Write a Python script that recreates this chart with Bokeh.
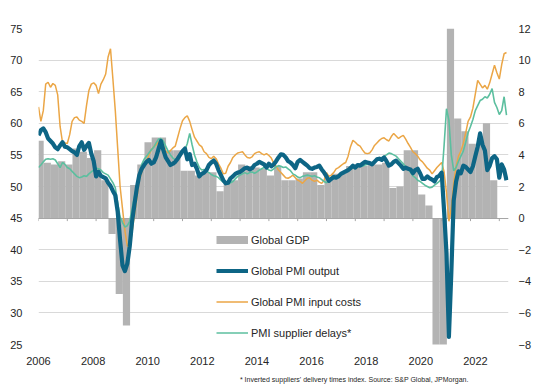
import numpy as np
from bokeh.plotting import figure
from bokeh.models import Range1d, LinearAxis, FixedTicker, Label, Legend, LegendItem, Title
from bokeh.embed import file_html
from bokeh.resources import INLINE

# ---------------- data ----------------
START_YEAR = 2006
# Global PMI output, monthly Jan-2006 .. Apr-2022
pmi_output = [
    58.1, 58.9, 59.2, 58.6, 57.6, 57.2, 56.8, 56.2, 55.9, 56.5, 57.0, 56.3,
    56.2, 55.9, 55.6, 55.4, 55.0, 56.4, 57.0, 55.8, 56.4, 56.9, 55.2, 54.0,
    51.6, 52.3, 51.7, 51.5, 51.3, 50.6, 50.1, 49.3, 48.6, 46.0, 41.5, 37.5,
    36.6, 37.8, 40.5, 44.5, 47.2, 49.8, 51.8, 52.8, 53.4, 53.9, 54.2, 53.6,
    53.8, 54.6, 55.9, 57.2, 55.8, 54.6, 54.0, 53.4, 53.6, 53.9, 54.4, 55.0,
    55.6, 56.0, 54.3, 55.1, 53.4, 53.6, 52.8, 51.6, 52.0, 52.2, 52.6, 53.4,
    53.8, 54.1, 53.6, 52.6, 51.8, 51.0, 50.5, 50.6, 51.3, 51.6, 52.0, 52.2,
    52.3, 52.6, 52.9, 53.0, 52.7, 52.9, 53.4, 53.6, 53.9, 53.7, 53.5, 53.0,
    53.6, 53.2, 53.5, 54.0, 54.6, 55.1, 55.0, 54.6, 54.0, 53.8, 53.4, 52.9,
    53.9, 54.2, 53.9, 53.6, 53.3, 52.9, 52.8, 53.0, 53.1, 53.3, 52.7, 52.2,
    51.6, 50.9, 51.2, 51.5, 51.4, 51.6, 52.0, 52.2, 52.4, 52.6, 52.9, 53.3,
    53.0, 53.4, 53.3, 53.6, 53.9, 53.8, 53.7, 53.5, 53.9, 54.3, 54.4, 54.2,
    54.6, 54.0, 53.3, 53.5, 53.9, 54.1, 53.7, 53.3, 52.8, 53.0, 52.8, 52.7,
    52.1, 52.6, 52.8, 52.1, 51.2, 51.2, 51.6, 51.3, 51.1, 50.8, 51.5, 51.7,
    52.2, 46.1, 39.4, 26.2, 36.3, 47.8, 50.8, 52.4, 52.1, 53.3, 53.1, 52.7,
    52.3, 53.2, 54.8, 56.3, 58.4, 56.6, 55.7, 52.6, 53.3, 54.5, 54.8, 54.3,
    51.4, 53.5, 52.7, 51.0,
]
# Global PMI input costs
pmi_input_costs = [
    62.6, 60.3, 62.0, 66.2, 66.5, 65.7, 66.3, 66.0, 64.5, 59.5, 57.0, 56.9,
    56.8, 58.2, 60.3, 60.9, 61.0, 60.5, 60.3, 60.0, 62.8, 65.2, 66.2, 66.4,
    66.0, 64.7, 66.2, 66.9, 67.8, 70.5, 71.8, 67.0, 62.0, 56.0, 50.0, 46.5,
    43.0, 40.6, 40.5, 42.8, 45.6, 48.2, 51.0, 52.3, 53.3, 54.0, 55.0, 55.8,
    56.3, 56.6, 57.0, 57.2, 56.5, 55.6, 55.3, 55.7, 56.1, 56.4, 57.8, 59.2,
    60.4, 60.9, 61.2, 60.3, 59.0, 57.8, 57.2, 56.6, 56.3, 55.5, 55.2, 54.6,
    54.4, 54.8, 54.4, 53.6, 52.9, 52.0, 52.1, 53.2, 53.8, 54.6, 55.0, 55.3,
    55.4, 55.5, 55.0, 54.6, 54.5, 54.7, 55.2, 55.4, 55.5, 55.2, 55.0, 55.2,
    54.9, 54.5, 53.7, 53.2, 52.6, 52.2, 51.8, 51.4, 51.3, 51.5, 51.8, 51.4,
    51.0, 50.8, 50.5, 50.9, 51.3, 51.4, 51.0, 50.8, 51.0, 50.7, 50.5, 51.0,
    52.2, 51.6, 51.8, 52.2, 52.8, 53.0, 53.3, 53.6, 53.8, 54.8, 56.3, 57.3,
    57.0, 56.6, 56.4, 55.8, 55.3, 55.2, 55.3, 55.8, 56.5, 56.9, 57.3, 57.6,
    57.7, 57.4, 57.2, 57.9, 58.4, 58.0, 57.6, 57.9, 58.1, 57.5, 56.8, 56.2,
    55.5, 55.2, 54.8, 54.2, 53.9, 53.4, 52.9, 52.6, 52.0, 52.5, 53.0, 53.4,
    53.8, 52.3, 49.0, 44.5, 46.6, 50.6, 53.2, 54.8, 55.6, 56.8, 58.5, 60.3,
    61.0, 62.4, 64.6, 66.8, 66.2, 65.6, 66.0, 65.4, 66.4, 67.8, 69.2, 68.0,
    67.0, 69.3, 71.0, 71.2,
]
# PMI supplier delays (inverted suppliers' delivery times index)
pmi_supplier_delays = [
    53.0, 53.4, 53.9, 54.3, 54.4, 54.3, 54.4, 54.2, 53.6, 53.0, 53.8, 53.5,
    53.0, 52.8, 52.4, 52.0, 51.6, 51.4, 51.5, 51.7, 51.6, 52.0, 52.3, 52.6,
    52.9, 52.8, 52.6, 52.2, 52.0, 51.8, 51.2, 50.6, 49.8, 47.4, 45.2, 44.3,
    43.6, 43.8, 44.5, 46.5, 48.4, 50.3, 52.0, 53.5, 54.3, 54.8, 55.3, 55.8,
    56.2, 56.9, 57.5, 57.6, 57.2, 56.4, 55.6, 55.0, 54.5, 54.2, 54.6, 55.2,
    55.6, 55.8, 56.8, 58.4, 56.6, 55.0, 53.9, 53.0, 52.6, 52.7, 52.4, 52.2,
    51.9, 51.7, 51.6, 51.4, 51.0, 50.7, 50.5, 50.4, 50.6, 50.8, 51.2, 51.6,
    51.8, 52.0, 52.2, 52.0, 52.2, 52.3, 52.1, 52.3, 52.6, 52.8, 53.0, 52.9,
    52.6, 52.5, 52.8, 53.1, 53.3, 53.2, 53.0, 53.1, 52.8, 52.5, 52.0, 51.8,
    51.5, 51.4, 51.6, 51.7, 51.8, 51.7, 51.6, 51.7, 51.5, 51.4, 51.1, 50.8,
    50.6, 50.9, 51.2, 51.4, 51.6, 51.7, 51.9, 52.1, 52.3, 52.6, 52.8, 52.9,
    53.0, 53.1, 53.3, 53.2, 53.4, 53.5, 53.7, 53.8, 54.0, 54.2, 54.5, 54.6,
    54.8, 55.0, 55.3, 55.2, 55.0, 54.8, 54.4, 54.0, 53.6, 53.1, 52.7, 52.3,
    51.7, 51.4, 51.0, 50.8, 50.5, 50.2, 50.0, 49.8, 49.9, 50.2, 50.5, 50.8,
    51.3, 56.5, 62.3, 60.5, 55.0, 52.5, 53.0, 54.0, 54.8, 55.6, 57.0, 58.5,
    59.5, 60.6, 62.0, 62.8, 63.6, 63.8, 64.2, 64.0, 64.6, 65.5, 63.3, 62.5,
    61.4, 62.0, 64.2, 61.3,
]
# Global GDP, quarterly annual % change, 2006Q2 .. 2022Q1
FIRST_QUARTER = 2006.25
global_gdp = [
    4.9, 3.5, 3.4, 3.6, 3.4, 4.4, 4.2, 3.8, 4.3, 2.4,
    -1.0, -4.8, -6.8, 2.1, 3.4, 4.8, 5.1, 5.1, 4.3, 4.3,
    3.0, 3.0, 2.7, 2.9, 2.9, 1.7, 2.2, 2.4, 3.4, 3.3,
    3.2, 3.1, 2.7, 3.3, 2.4, 2.4, 2.5, 2.9, 2.9, 2.1,
    2.5, 2.8, 2.8, 3.3, 3.3, 3.3, 3.4, 3.4, 3.5, 1.9,
    2.0, 4.3, 4.3, 1.5, 0.8, -9.8, -29.5, 33.5, 6.3, 5.5,
    4.7, 4.7, 6.0, 2.4,
]
year_ticks = list(range(2006, 2023))
label_years = list(range(2006, 2023, 2))
left_ticks = list(range(25, 80, 5))
right_ticks = list(range(-8, 14, 2))

months = [START_YEAR + i / 12 for i in range(len(pmi_output))]
quarters = [FIRST_QUARTER + 0.25 * i for i in range(len(global_gdp))]

# ---------------- style / layout ----------------
FONT = "Liberation Sans"
TXT = "#262626"
GREY = "#b3b3b3"
TEAL = "#0d6585"
ORANGE = "#eba646"
GREEN = "#5cbf9f"
W, H = 552, 390
FL, FR, FT, FB = 38, 44, 28, 46
PX_PER_YEAR = 28.8
BAR_SHIFT = -0.195          # bars drawn slightly earlier, as in the source chart
frame_w = W - FL - FR
frame_h = H - FT - FB
x_end = START_YEAR + frame_w / PX_PER_YEAR
# year labels on the source chart sit on a slightly compressed scale
LAB_PX_PER_YEAR = 27.31
lab_start = START_YEAR
lab_end = lab_start + frame_w / LAB_PX_PER_YEAR

p = figure(width=W, height=H, x_range=Range1d(START_YEAR, x_end),
           y_range=Range1d(25, 75), output_backend="svg",
           toolbar_location=None, x_axis_location=None,
           min_border_left=FL, min_border_right=FR,
           min_border_top=FT, min_border_bottom=FB)
p.outline_line_color = None
p.background_fill_color = "white"
p.border_fill_color = "white"
p.extra_y_ranges = {"gdp": Range1d(-8, 12)}
p.extra_x_ranges = {"lab": Range1d(lab_start, lab_end)}

for g in p.xgrid:
    g.visible = False
p.ygrid.ticker = FixedTicker(ticks=left_ticks)
p.ygrid.grid_line_color = "#d9d9d9"
p.ygrid.grid_line_width = 1


def style_axis(ax, standoff):
    ax.axis_line_color = None
    ax.major_tick_line_color = None
    ax.minor_tick_line_color = None
    ax.major_label_text_font = FONT
    ax.major_label_text_font_size = "11px"
    ax.major_label_text_color = TXT
    ax.major_label_standoff = standoff


yl = p.yaxis[0]
yl.ticker = FixedTicker(ticks=left_ticks)
style_axis(yl, 10)

yr = LinearAxis(y_range_name="gdp", ticker=FixedTicker(ticks=right_ticks))
style_axis(yr, 4)
p.add_layout(yr, "right")

xb = LinearAxis(x_range_name="lab", ticker=FixedTicker(ticks=label_years))
style_axis(xb, 6)
p.add_layout(xb, "below")

# footnote as a title under the year labels
foot = Title(text="* Inverted suppliers' delivery times index. Source: S&P Global, JPMorgan.",
             align="right", offset=40, standoff=13, text_font=FONT,
             text_font_size="7px", text_font_style="normal", text_color=TXT)
p.add_layout(foot, "below")

# GDP bars
bar_x = [q + BAR_SHIFT for q in quarters]
p.vbar(x=bar_x, top=global_gdp, bottom=0, width=0.25, y_range_name="gdp",
       fill_color=GREY, line_color=None)

# horizontal axis at 0 GDP / 45 PMI with year ticks
p.hspan(y=[0], y_range_name="gdp", line_color="#a6a6a6", line_width=1)
tick_len = 3 / (frame_h / 50)
p.segment(x0=year_ticks, x1=year_ticks, y0=[45] * len(year_ticks),
          y1=[45 - tick_len] * len(year_ticks), line_color="#a6a6a6", line_width=1)

r_in = p.line(months, pmi_input_costs, line_color=ORANGE, line_width=1.5)
r_sd = p.line(months, pmi_supplier_delays, line_color=GREEN, line_width=1.6)
r_out = p.line(months, pmi_output, line_color=TEAL, line_width=4.2, line_join="round")
# legend swatch for the bars (no visible data)
r_gdp_key = p.line(x=np.array([START_YEAR, START_YEAR], dtype=float),
                   y=np.array([np.nan, np.nan]),
                   line_color=GREY, line_width=8, line_cap="butt")

legend = Legend(items=[
    LegendItem(label="Global GDP", renderers=[r_gdp_key]),
    LegendItem(label="Global PMI output", renderers=[r_out]),
    LegendItem(label="Global PMI input costs", renderers=[r_in]),
    LegendItem(label="PMI supplier delays*", renderers=[r_sd]),
], location=(178, 1))
legend.margin = 0
legend.padding = 0
legend.border_line_color = None
legend.background_fill_alpha = 0
legend.label_text_font = FONT
legend.label_text_font_size = "11px"
legend.label_text_color = TXT
legend.label_height = 21
legend.glyph_height = 21
legend.glyph_width = 32
legend.spacing = 10
legend.label_standoff = 3
p.add_layout(legend)

p.add_layout(Label(x=-28, y=frame_h + 16, x_units="screen", y_units="screen",
                   text="Global PMI by S&P Global", text_font=FONT,
                   text_font_size="11px", text_color=TXT,
                   text_align="left", text_baseline="middle"))
p.add_layout(Label(x=frame_w + 35, y=frame_h + 16, x_units="screen", y_units="screen",
                   text="Global GDP annual % change", text_font=FONT,
                   text_font_size="11px", text_color=TXT,
                   text_align="right", text_baseline="middle"))

open("out.html", "w").write(file_html(p, INLINE))
